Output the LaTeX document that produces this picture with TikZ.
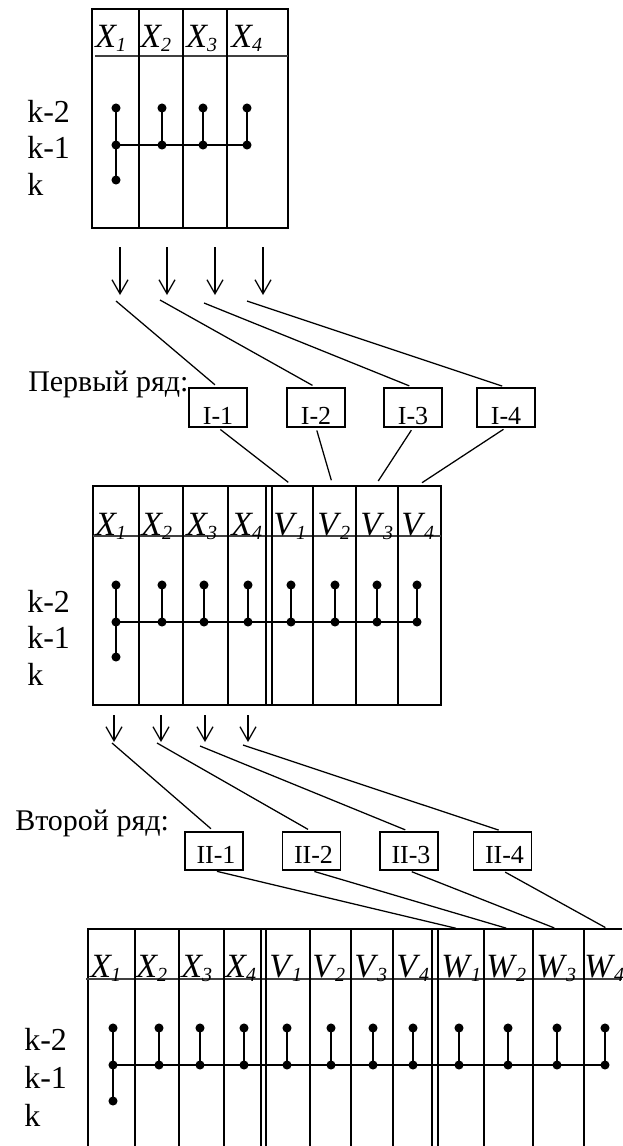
\documentclass[tikz,border=0pt]{standalone}
\usepackage{fontspec}
\setmainfont{Liberation Serif}
\usetikzlibrary{arrows.meta}

% column heading: italic letter with a lowered italic index
\newcommand\colhead[2]{\textit{#1}\kern-0.8pt\raisebox{-3pt}{\fontsize{15pt}{15pt}\selectfont\textit{#2}}}

\tikzset{
  frame/.style={line width=1.6pt},
  grid/.style={line width=0.9pt},
  headline/.style={line width=1.2pt, black!75},
  stick/.style={line width=1.1pt},
  link/.style={line width=0.95pt},
  down/.style={line width=0.95pt, -{Straight Barb[length=10.5pt,width=12pt]}},
  hdr/.style={anchor=base west, inner sep=0pt, font=\fontsize{25.5pt}{28pt}\selectfont},
  rowlab/.style={anchor=base west, inner sep=0pt, font=\fontsize{24pt}{28pt}\selectfont},
  title/.style={anchor=base west, inner sep=0pt, font=\fontsize{22.5pt}{26pt}\selectfont},
  boxa/.style={draw, line width=0.95pt, inner sep=0pt, minimum width=43.5pt,
    text height=27pt, text depth=2.25pt, font=\fontsize{19.5pt}{22pt}\selectfont},
  boxb/.style={draw, line width=0.95pt, inner sep=0pt, minimum width=43.5pt,
    text height=23.25pt, text depth=5.25pt, font=\fontsize{19.5pt}{22pt}\selectfont},
}

\begin{document}
\begin{tikzpicture}[x=0.75pt, y=-0.75pt]
\useasboundingbox (0,0) rectangle (622,1146);

% ---------------- first table: X1..X4 ----------------
\draw[frame] (92,9) rectangle (288,228);
\draw[headline] (95,56) -- (288,56);
\foreach \x in {139,183,227} \draw[grid] (\x,9) -- (\x,228);
\foreach \x/\l/\i [count=\n] in {95/X/1,140/X/2,186/X/3,231/X/4}
  \node[hdr] (ta\n) at (\x,47) {\colhead{\l}{\i}};
\node[rowlab] (ra1) at (27,122) {k-2};
\node[rowlab] (ra2) at (27,158) {k-1};
\node[rowlab] (ra3) at (27,195) {k};
\draw[stick] (116,108) -- (116,180);
\draw[stick] (116,145) -- (247,145);
\foreach \x in {162,203,247} \draw[stick] (\x,108) -- (\x,145);
\foreach \x in {116,162,203,247} {
  \fill (\x,108) circle[radius=3.4pt];
  \fill (\x,145) circle[radius=3.4pt];
}
\fill (116,180) circle[radius=3.4pt];

% arrows leaving the first table
\foreach \x/\n in {120/1,167/2,215/3,263/4} {
  \coordinate (ua\n) at (\x,247);
  \coordinate (va\n) at (\x,295);
  \draw[down] (ua\n) -- (va\n);
}
\coordinate (wa1) at (116,301);
\coordinate (wa2) at (160,300);
\coordinate (wa3) at (204,303);
\coordinate (wa4) at (247,301);

% ---------------- first row of blocks ----------------
\node[title] (row1) at (28,391) {Первый ряд:};
\node[boxa] (i1) at (218,407.5) {I-1};
\node[boxa] (i2) at (316,407.5) {I-2};
\node[boxa] (i3) at (413,407.5) {I-3};
\node[boxa] (i4) at (506,407.5) {I-4};
\foreach \n in {1,2,3,4}
  \draw[link, shorten >=3pt] (wa\n) -- (i\n.north);

% tops of the V columns
\coordinate (vt1) at (293,486);
\coordinate (vt2) at (333,486);
\coordinate (vt3) at (375,486);
\coordinate (vt4) at (417,486);
\foreach \n in {1,2,3,4}
  \draw[link, shorten <=2.25pt, shorten >=4.5pt] (i\n.south) -- (vt\n);

% ---------------- second table: X1..X4, V1..V4 ----------------
\draw[frame] (93,486) rectangle (441,705);
\draw[headline] (93,536) -- (441,536);
\foreach \x in {139,183,228,266,272,313,356,398} \draw[grid] (\x,486) -- (\x,705);
\foreach \x/\l/\i [count=\n] in {95/X/1,141/X/2,186/X/3,231/X/4,273/V/1,317/V/2,360/V/3,401/V/4}
  \node[hdr] (tb\n) at (\x,535) {\colhead{\l}{\i}};
\node[rowlab] (rb1) at (27,612) {k-2};
\node[rowlab] (rb2) at (27,648) {k-1};
\node[rowlab] (rb3) at (27,685) {k};
\draw[stick] (116,585) -- (116,657);
\draw[stick] (116,622) -- (417,622);
\foreach \x in {162,204,248,291,335,377,417} \draw[stick] (\x,585) -- (\x,622);
\foreach \x in {116,162,204,248,291,335,377,417} {
  \fill (\x,585) circle[radius=3.4pt];
  \fill (\x,622) circle[radius=3.4pt];
}
\fill (116,657) circle[radius=3.4pt];

% arrows leaving the second table
\foreach \x/\n in {114/1,161/2,205/3,248/4} {
  \coordinate (ub\n) at (\x,715);
  \coordinate (vb\n) at (\x,742);
  \draw[down] (ub\n) -- (vb\n);
}
\coordinate (wb1) at (112,743);
\coordinate (wb2) at (157,743);
\coordinate (wb3) at (200,746);
\coordinate (wb4) at (243,745);

% ---------------- second row of blocks ----------------
\node[title] (row2) at (15,830) {Второй ряд:};
\node[boxb] (j1) at (214,851) {\hspace{3pt}II-1};
\node[boxb] (j2) at (311.5,851) {\hspace{3pt}II-2};
\node[boxb] (j3) at (409,851) {\hspace{3pt}II-3};
\node[boxb] (j4) at (502.5,851) {\hspace{3pt}II-4};
\foreach \n in {1,2,3,4}
  \draw[link, shorten >=3pt] (wb\n) -- (j\n.north);

% tops of the W columns
\coordinate (wt1) at (459,929);
\coordinate (wt2) at (509,929);
\coordinate (wt3) at (557,929);
\coordinate (wt4) at (608,929);
\foreach \n in {1,2,3,4}
  \draw[link, shorten <=2.25pt, shorten >=2.25pt] (j\n.south) -- (wt\n);

% ---------------- third table: X, V, W ----------------
\draw[frame] (622,929) -- (88,929) -- (88,1146);
\draw[headline] (86,979) -- (622,979);
\foreach \x in {135,179,224,261,266,310,351,393,432,438,484,533,584}
  \draw[grid] (\x,929) -- (\x,1146);
\foreach \x/\l/\i [count=\n] in {90/X/1,136/X/2,181/X/3,225/X/4,269/V/1,312/V/2,354/V/3,396/V/4,441/W/1,486/W/2,536/W/3,584/W/4}
  \node[hdr] (tc\n) at (\x,977) {\colhead{\l}{\i}};
\node[rowlab] (rc1) at (24,1050) {k-2};
\node[rowlab] (rc2) at (24,1088) {k-1};
\node[rowlab] (rc3) at (24,1126) {k};
\draw[stick] (113,1028) -- (113,1101);
\draw[stick] (113,1065) -- (605,1065);
\foreach \x in {159,200,244,287,331,373,413,459,508,557,605} \draw[stick] (\x,1028) -- (\x,1065);
\foreach \x in {113,159,200,244,287,331,373,413,459,508,557,605} {
  \fill (\x,1028) circle[radius=3.4pt];
  \fill (\x,1065) circle[radius=3.4pt];
}
\fill (113,1101) circle[radius=3.4pt];
\end{tikzpicture}
\end{document}
